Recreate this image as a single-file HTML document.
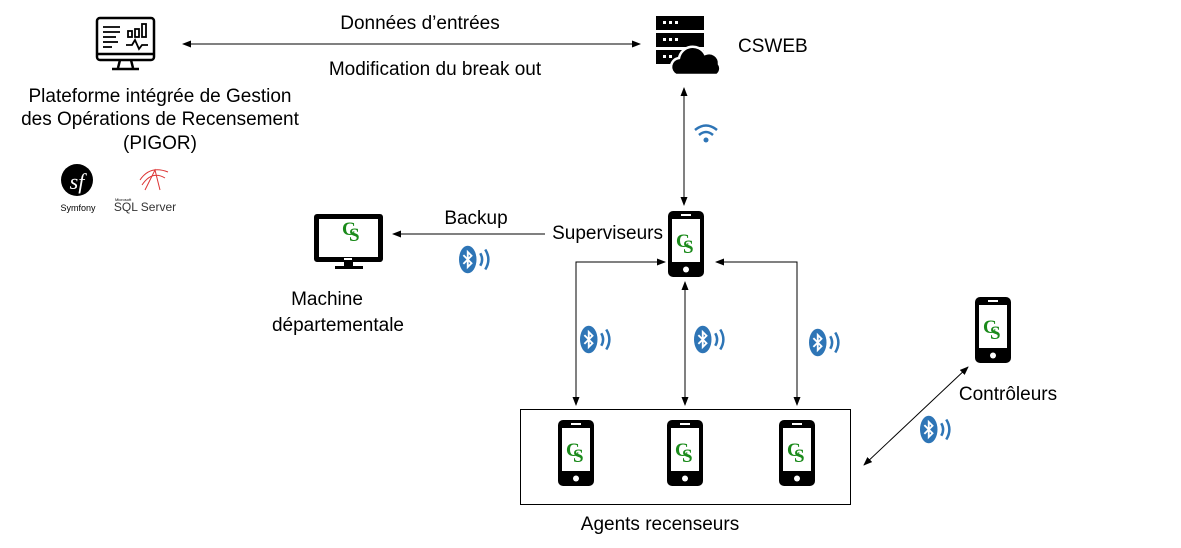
<!DOCTYPE html>
<html><head><meta charset="utf-8"><style>
html,body{margin:0;padding:0;background:#fff;}
svg{display:block;font-family:"Liberation Sans",Arial,sans-serif;}
</style></head><body>
<svg width="1181" height="548" viewBox="0 0 1181 548" xmlns="http://www.w3.org/2000/svg">
<defs>
<marker id="ah" markerWidth="9" markerHeight="7" refX="8" refY="3.5" orient="auto-start-reverse" markerUnits="userSpaceOnUse">
<path d="M0,0 L9,3.5 L0,7 z" fill="#000"/></marker>
<g id="phone">
<rect x="0" y="0" width="36" height="66" rx="5" fill="#000"/>
<rect x="4" y="8" width="28" height="43" fill="#fff"/>
<rect x="13" y="3" width="10" height="2" fill="#fff"/>
<circle cx="18" cy="58.5" r="3" fill="#fff"/>
<text x="8" y="36" font-size="19" font-weight="bold" fill="#1a8a1a" font-family="Liberation Serif,serif">C</text>
<text x="15" y="42" font-size="19" font-weight="bold" fill="#1a8a1a" font-family="Liberation Serif,serif">S</text>
</g>
<g id="btb">
<ellipse cx="7" cy="10" rx="7" ry="11" fill="#2e75b6"/>
<path d="M3.5,6.5 L10,13 L7,16 L7,4 L10,7 L3.5,13.5" stroke="#fff" stroke-width="1.5" fill="none"/>
<path d="M17,5 Q20,10 17,15" stroke="#2e75b6" stroke-width="2" fill="none"/>
<path d="M21,2 Q26,10 21,18" stroke="#2e75b6" stroke-width="2" fill="none"/>
</g>
<g id="bt"><use href="#btb" transform="scale(1.25)"/></g>
</defs>

<line x1="183" y1="44" x2="640" y2="44" stroke="#000" stroke-width="1" marker-start="url(#ah)" marker-end="url(#ah)"/>
<text x="420" y="29" font-size="19" text-anchor="middle">Données d’entrées</text>
<text x="435" y="75" font-size="19" text-anchor="middle">Modification du break out</text>

<g stroke="#000" stroke-width="2.5" fill="none">
<rect x="97" y="18" width="57" height="42" rx="3"/>
<line x1="97" y1="54" x2="154" y2="54"/>
<line x1="120" y1="60" x2="118" y2="68"/><line x1="131" y1="60" x2="133" y2="68"/>
<line x1="112" y1="69" x2="139" y2="69"/>
<line x1="103" y1="27" x2="120" y2="27" stroke-width="1.8"/><line x1="103" y1="32" x2="120" y2="32" stroke-width="1.8"/>
<line x1="103" y1="37" x2="116" y2="37" stroke-width="1.8"/><line x1="103" y1="42" x2="118" y2="42" stroke-width="1.8"/>
<line x1="103" y1="47" x2="112" y2="47" stroke-width="1.8"/>
<rect x="128" y="31" width="4" height="6" stroke-width="1.8"/><rect x="135" y="29" width="4" height="8" stroke-width="1.8"/><rect x="142" y="24" width="4" height="13" stroke-width="1.8"/>
<path d="M126,45 L132,45 L135,40 L139,49 L142,45 L148,45" stroke-width="1.8"/>
</g>
<text x="160" y="102" font-size="19" text-anchor="middle">Plateforme intégrée de Gestion</text>
<text x="160" y="125" font-size="19" text-anchor="middle">des Opérations de Recensement</text>
<text x="160" y="149" font-size="19" text-anchor="middle">(PIGOR)</text>
<circle cx="77" cy="180" r="16" fill="#000"/>
<text x="77" y="189" font-size="22" font-style="italic" fill="#fff" text-anchor="middle" font-family="Liberation Serif,serif">sf</text>
<text x="78" y="211" font-size="9" text-anchor="middle">Symfony</text>
<path d="M140,180 Q150,165 168,172 M142,185 Q152,170 165,178 M145,190 L155,170 L160,190" stroke="#d33" stroke-width="1" fill="none"/>
<text x="115" y="201" font-size="4">Microsoft</text>
<text x="145" y="211" font-size="12" text-anchor="middle" fill="#333">SQL Server</text>

<rect x="656" y="16" width="48" height="14" fill="#000"/>
<rect x="656" y="33" width="48" height="14" fill="#000"/>
<rect x="656" y="50" width="48" height="14" fill="#000"/>
<g fill="#fff"><rect x="663" y="21" width="3" height="3"/><rect x="669" y="21" width="3" height="3"/><rect x="675" y="21" width="3" height="3"/>
<rect x="663" y="38" width="3" height="3"/><rect x="669" y="38" width="3" height="3"/><rect x="675" y="38" width="3" height="3"/>
<rect x="663" y="55" width="3" height="3"/><rect x="669" y="55" width="3" height="3"/></g>
<path d="M676,75 a9,9 0 0 1 3,-17 a14,14 0 0 1 26,-4 a10,10 0 0 1 14,10 a8,8 0 0 1 -2,11 z" fill="#000" stroke="#fff" stroke-width="2.5"/>
<text x="738" y="52" font-size="19">CSWEB</text>

<line x1="684" y1="88" x2="684" y2="205" stroke="#000" marker-start="url(#ah)" marker-end="url(#ah)"/>
<g stroke="#2e75b6" stroke-width="2.5" fill="none">
<path d="M695,130 Q706,121 717,130"/><path d="M699,135 Q706,129 713,135"/></g>
<circle cx="706" cy="140" r="2.5" fill="#2e75b6"/>

<use href="#phone" x="668" y="211"/>
<text x="663" y="239" font-size="19" text-anchor="end">Superviseurs</text>
<line x1="545" y1="234" x2="393" y2="234" stroke="#000" marker-end="url(#ah)"/>
<text x="476" y="224" font-size="19" text-anchor="middle">Backup</text>
<use href="#bt" x="459" y="247"/>

<rect x="314" y="214" width="69" height="48" rx="3" fill="#000"/>
<rect x="319" y="219" width="59" height="38" fill="#fff"/>
<rect x="344" y="258" width="8" height="2" fill="#fff"/>
<rect x="344" y="262" width="9" height="5" fill="#000"/>
<rect x="335" y="266" width="28" height="3" fill="#000"/>
<text x="342" y="235" font-size="19" font-weight="bold" fill="#1a8a1a" font-family="Liberation Serif,serif">C</text>
<text x="349" y="241" font-size="19" font-weight="bold" fill="#1a8a1a" font-family="Liberation Serif,serif">S</text>
<text x="327" y="305" font-size="19" text-anchor="middle">Machine</text>
<text x="338" y="331" font-size="19" text-anchor="middle">départementale</text>

<polyline points="576,405 576,262 665,262" fill="none" stroke="#000" marker-start="url(#ah)" marker-end="url(#ah)"/>
<line x1="685" y1="405" x2="685" y2="282" stroke="#000" marker-start="url(#ah)" marker-end="url(#ah)"/>
<polyline points="797,405 797,262 716,262" fill="none" stroke="#000" marker-start="url(#ah)" marker-end="url(#ah)"/>
<use href="#bt" x="580" y="327"/>
<use href="#bt" x="694" y="327"/>
<use href="#bt" x="809" y="330"/>

<rect x="520.5" y="409.5" width="330" height="95" fill="none" stroke="#000"/>
<use href="#phone" x="558" y="420"/>
<use href="#phone" x="667" y="420"/>
<use href="#phone" x="779" y="420"/>
<text x="660" y="530" font-size="19" text-anchor="middle">Agents recenseurs</text>

<use href="#phone" x="975" y="297"/>
<text x="1008" y="400" font-size="19" text-anchor="middle">Contrôleurs</text>
<line x1="864" y1="465" x2="968" y2="367" stroke="#000" marker-start="url(#ah)" marker-end="url(#ah)"/>
<use href="#bt" x="920" y="417"/>
</svg>
</body></html>
